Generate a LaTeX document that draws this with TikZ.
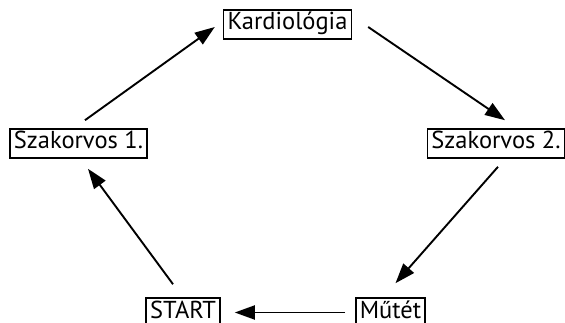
\documentclass[tikz,border=0pt]{standalone}
\usepackage{fontspec}
\setmainfont{PT Sans}
\usetikzlibrary{calc,arrows.meta}
\tikzset{
  stage/.style={draw, line width=1.6pt, inner xsep=4pt, inner ysep=0pt,
    text height=17pt, text depth=6pt, minimum height=29pt,
    font=\fontsize{24.5}{28}\selectfont},
  flow/.style={line width=1.9pt, -{Triangle[length=20pt,width=14pt]}}
}
\begin{document}
\begin{tikzpicture}[x=1pt,y=-1pt]
\useasboundingbox (0,0) rectangle (565,323);
\node[stage] (kard) at (287.5,24.5) {Kardiológia};
\node[stage] (sz1) at (78.5,143.5) {Szakorvos 1.};
\node[stage] (sz2) at (496,143.5) {Szakorvos 2.};
\node[stage] (start) at (183,312.5) {START};
\node[stage] (mutet) at (390.5,312.5) {Műtét};
\draw[flow] ($(sz1.north)+(6.5,-8)$) -- ($(kard.west)+(-8,2.5)$);
\draw[flow] ($(kard.east)+(16,2.5)$) -- ($(sz2.north)+(9,-8)$);
\draw[flow] ($(sz2.south)+(2,8)$) -- ($(mutet.north)+(5,-14)$);
\draw[flow] ($(mutet.west)+(-10,0)$) -- ($(start.east)+(14,0)$);
\draw[flow] ($(start.north)+(-10,-13)$) -- ($(sz1.south)+(9.5,10)$);
\end{tikzpicture}
\end{document}
